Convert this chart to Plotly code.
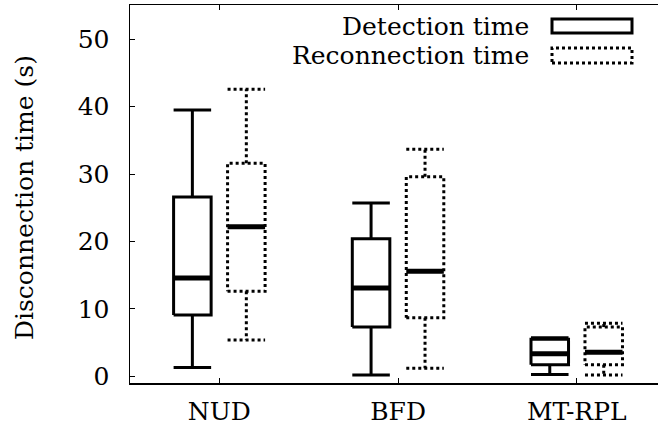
import plotly.graph_objects as go

# ---------------- data ----------------
categories = ["NUD", "BFD", "MT-RPL"]

det_min = [1.3, 0.2, 0.25]
det_q1 = [9.1, 7.3, 1.7]
det_med = [14.6, 13.1, 3.35]
det_q3 = [26.6, 20.4, 5.5]
det_max = [39.5, 25.7, 5.7]

rec_min = [5.4, 1.2, 0.2]
rec_q1 = [12.6, 8.7, 1.7]
rec_med = [22.2, 15.6, 3.55]
rec_q3 = [31.6, 29.6, 7.3]
rec_max = [42.6, 33.7, 7.85]

y_ticks = [0, 10, 20, 30, 40, 50]
series_names = ["Detection time", "Reconnection time"]

# ---------------- layout constants ----------------
W, H = 658, 428
ML, MR, MT, MB = 130, 0, 5, 45
PW, PH = W - ML - MR, H - MT - MB
X_RANGE = [0.5, 0.5 + PW / 178.7]
Y_RANGE = [-1, 55.1]
OFF = 0.151      # offset of each box from its category position
BW = 0.21        # box width in axis units
FONT = "DejaVu Serif"
FS = 25


def box_outline(xc, lo, q1, q3, hi):
    xl, xr = xc - BW / 2, xc + BW / 2
    xs = [xl, xr, xr, xl, xl, None, xc, xc, None, xc, xc, None, xl, xr, None, xl, xr]
    ys = [q1, q1, q3, q3, q1, None, q3, hi, None, q1, lo, None, hi, hi, None, lo, lo]
    return xs, ys


fig = go.Figure()

groups = [
    (det_min, det_q1, det_med, det_q3, det_max, -OFF, "solid"),
    (rec_min, rec_q1, rec_med, rec_q3, rec_max, +OFF, "dot"),
]

for (lo_a, q1_a, med_a, q3_a, hi_a, off, dash), name in zip(groups, series_names):
    bx, by, mx, my = [], [], [], []
    for i in range(len(categories)):
        xc = i + 1 + off
        xs, ys = box_outline(xc, lo_a[i], q1_a[i], q3_a[i], hi_a[i])
        bx += xs + [None]
        by += ys + [None]
        mx += [xc - BW / 2, xc + BW / 2, None]
        my += [med_a[i], med_a[i], None]
    fig.add_trace(go.Scatter(x=bx, y=by, mode="lines", name=name,
                             line=dict(color="black", width=3, dash=dash),
                             showlegend=False, hoverinfo="skip"))
    fig.add_trace(go.Scatter(x=mx, y=my, mode="lines", name=name + " median",
                             line=dict(color="black", width=5),
                             showlegend=False, hoverinfo="skip"))


def px_x(p):
    return (p - ML) / PW


def px_y(p):
    return (H - MB - p) / PH


# manual legend (text on the left, sample on the right)
legend_rows = [(series_names[0], "solid", 19, 33), (series_names[1], "dot", 48, 63)]
annotations = []
shapes = []
for name, dash, top, bot in legend_rows:
    shapes.append(dict(type="rect", xref="paper", yref="paper",
                       x0=px_x(552), x1=px_x(632), y0=px_y(bot), y1=px_y(top),
                       line=dict(color="black", width=3, dash=dash),
                       fillcolor="rgba(0,0,0,0)"))
    annotations.append(dict(text=name, xref="paper", yref="paper",
                            x=px_x(531), y=px_y((top + bot) / 2 + 0.5),
                            xanchor="right", yanchor="middle", showarrow=False,
                            font=dict(family=FONT, size=FS, color="black")))

annotations.append(dict(text="Disconnection time (s)", xref="paper", yref="paper",
                        x=px_x(24), y=px_y(198), textangle=-90,
                        xanchor="center", yanchor="middle", showarrow=False,
                        font=dict(family=FONT, size=FS, color="black")))

fig.update_layout(
    width=W, height=H,
    margin=dict(l=ML, r=MR, t=MT, b=MB, pad=0),
    paper_bgcolor="white", plot_bgcolor="white",
    showlegend=False,
    shapes=shapes, annotations=annotations,
    font=dict(family=FONT, size=FS, color="black"),
)

fig.update_xaxes(
    range=X_RANGE, tickvals=[1, 2, 3], ticktext=categories,
    showline=True, linecolor="black", linewidth=1.5, mirror="ticks",
    ticks="inside", ticklen=5, tickwidth=1, tickcolor="black",
    showgrid=False, zeroline=False, ticklabelstandoff=5,
    tickfont=dict(family=FONT, size=FS, color="black"),
)
fig.update_yaxes(
    range=Y_RANGE, tickvals=y_ticks,
    showline=True, linecolor="black", linewidth=1.5, mirror=False,
    ticks="inside", ticklen=5, tickwidth=1, tickcolor="black",
    showgrid=False, zeroline=False, ticklabelstandoff=14,
    tickfont=dict(family=FONT, size=FS, color="black"),
)

fig.write_html("out.html", config={"displayModeBar": False, "staticPlot": True},
               post_script="document.body.style.margin='0';document.body.style.padding='0';")
